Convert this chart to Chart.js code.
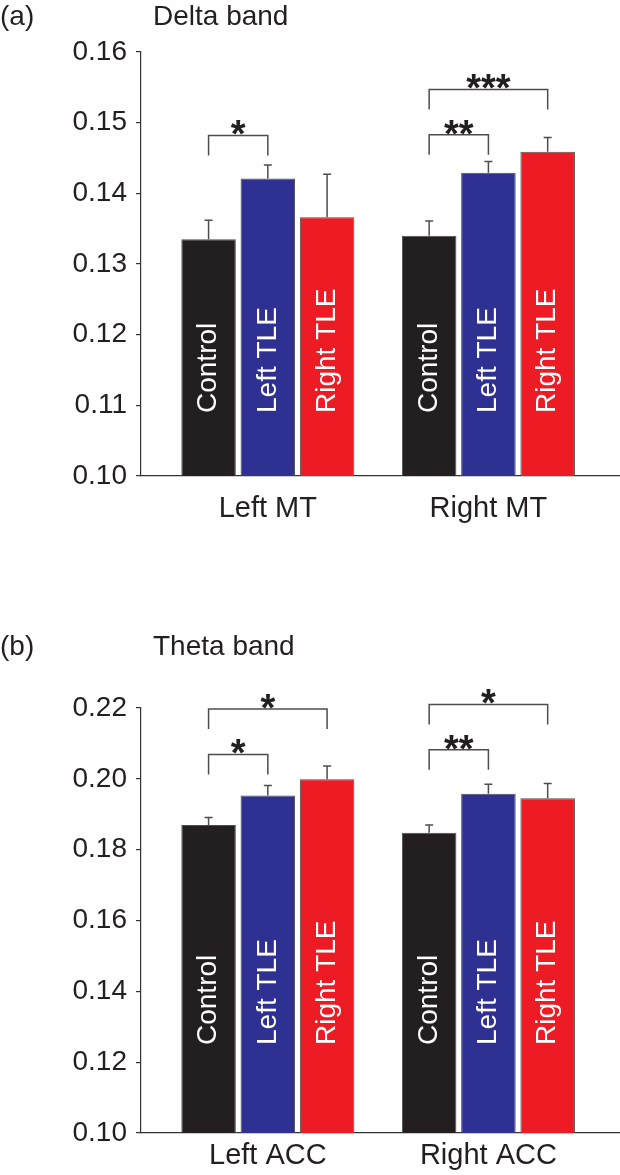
<!DOCTYPE html>
<html>
<head>
<meta charset="utf-8">
<script src="https://cdn.jsdelivr.net/npm/chart.js@4.4.1/dist/chart.umd.min.js"></script>
<style>
    html, body { margin: 0; padding: 0; background: #fff; }
    #wrap { position: relative; width: 620px; height: 1175px; }
    canvas { position: absolute; left: 0; }
</style>
</head>
<body>
<div id="wrap">
    <canvas id="deltaChart" width="620" height="590" style="top:0"></canvas>
    <canvas id="thetaChart" width="620" height="585" style="top:590px"></canvas>
</div>
<script>
// Groups shown in every region
const groups = ['Control', 'Left TLE', 'Right TLE'];
const groupColors = ['#231f20', '#2e3192', '#ed1c24'];

// (a) Delta band
const deltaRegions = ['Left MT', 'Right MT'];
const deltaControl = [0.1335, 0.1340];
const deltaLeftTLE = [0.1421, 0.1429];
const deltaRightTLE = [0.1366, 0.1459];
const deltaControlErr = [0.0027, 0.0021];
const deltaLeftTLEErr = [0.0019, 0.0016];
const deltaRightTLEErr = [0.0061, 0.0020];
const deltaTicks = [0.10, 0.11, 0.12, 0.13, 0.14, 0.15, 0.16];
// significance brackets: region, from group, to group, bracket height, stars
const deltaSig = [
    { region: 0, from: 0, to: 1, y: 0.1482, text: '*' },
    { region: 1, from: 0, to: 1, y: 0.1483, text: '**' },
    { region: 1, from: 0, to: 2, y: 0.1547, text: '***' }
];

// (b) Theta band
const thetaRegions = ['Left ACC', 'Right ACC'];
const thetaControl = [0.1870, 0.1848];
const thetaLeftTLE = [0.1953, 0.1958];
const thetaRightTLE = [0.1999, 0.1945];
const thetaControlErr = [0.0021, 0.0022];
const thetaLeftTLEErr = [0.0028, 0.0027];
const thetaRightTLEErr = [0.0037, 0.0042];
const thetaTicks = [0.10, 0.12, 0.14, 0.16, 0.18, 0.20, 0.22];
const thetaSig = [
    { region: 0, from: 0, to: 1, y: 0.2069, text: '*' },
    { region: 0, from: 0, to: 2, y: 0.2197, text: '*' },
    { region: 1, from: 0, to: 1, y: 0.2082, text: '**' },
    { region: 1, from: 0, to: 2, y: 0.2210, text: '*' }
];

const FONT = "'Liberation Sans', Arial, sans-serif";
const INK = '#231f20';
const LINE = '#4d4d4d';

// Error bars, labels inside bars, brackets and panel titles
const panelDecor = {
    id: 'panelDecor',
    afterDatasetsDraw(chart, args, opts) {
        const ctx = chart.ctx;
        const yScale = chart.scales.y;
        const area = chart.chartArea;
        ctx.save();

        chart.data.datasets.forEach((ds, di) => {
            const meta = chart.getDatasetMeta(di);
            meta.data.forEach((bar, i) => {
                // error bar (upper half only)
                const top = yScale.getPixelForValue(ds.data[i].y + ds.errors[i]);
                ctx.strokeStyle = LINE;
                ctx.lineWidth = 1.5;
                ctx.beginPath();
                ctx.moveTo(bar.x, bar.y);
                ctx.lineTo(bar.x, top);
                ctx.moveTo(bar.x - 4, top);
                ctx.lineTo(bar.x + 4, top);
                ctx.stroke();

                // rotated group name inside the bar
                ctx.save();
                ctx.translate(bar.x, area.bottom - opts.labelOffset);
                ctx.rotate(-Math.PI / 2);
                ctx.fillStyle = '#ffffff';
                ctx.font = '28px ' + FONT;
                ctx.textAlign = 'left';
                ctx.textBaseline = 'middle';
                ctx.fillText(ds.label, 0, 0);
                ctx.restore();
            });
        });

        // significance brackets
        opts.brackets.forEach(b => {
            const x1 = chart.getDatasetMeta(b.from).data[b.region].x;
            const x2 = chart.getDatasetMeta(b.to).data[b.region].x;
            const y = yScale.getPixelForValue(b.y);
            ctx.strokeStyle = LINE;
            ctx.lineWidth = 1.5;
            ctx.beginPath();
            ctx.moveTo(x1, y + 20);
            ctx.lineTo(x1, y);
            ctx.lineTo(x2, y);
            ctx.lineTo(x2, y + 20);
            ctx.stroke();

            ctx.fillStyle = INK;
            ctx.font = 'bold 38px ' + FONT;
            ctx.textAlign = 'center';
            ctx.textBaseline = 'alphabetic';
            ctx.fillText(b.text, (x1 + x2) / 2, y + 12);
        });

        // panel letter and title
        ctx.fillStyle = INK;
        ctx.font = '28px ' + FONT;
        ctx.textAlign = 'left';
        ctx.textBaseline = 'alphabetic';
        opts.titles.forEach(t => ctx.fillText(t.text, t.x, t.y));

        ctx.restore();
    }
};

function makeDatasets(values, errors) {
    return groups.map((g, gi) => ({
        label: g,
        data: values[gi].map((v, i) => ({ x: i + 1, y: v })),
        errors: errors[gi],
        backgroundColor: groupColors[gi],
        borderColor: LINE,
        borderWidth: 1,
        categoryPercentage: 0.806,
        barPercentage: 0.92
    }));
}

function makeChart(canvasId, cfg) {
    return new Chart(document.getElementById(canvasId), {
        type: 'bar',
        data: { datasets: makeDatasets(cfg.values, cfg.errors) },
        plugins: [panelDecor],
        options: {
            responsive: false,
            animation: false,
            layout: { padding: { top: cfg.padTop, right: 1, left: 0, bottom: 0 } },
            plugins: {
                legend: { display: false },
                tooltip: { enabled: false },
                panelDecor: {
                    brackets: cfg.brackets,
                    titles: cfg.titles,
                    labelOffset: cfg.labelOffset
                }
            },
            scales: {
                x: {
                    type: 'linear',
                    offset: false,
                    min: 0.425,
                    max: 2.592,
                    afterBuildTicks: s => { s.ticks = cfg.regions.map((r, i) => ({ value: i + 1 })); },
                    afterFit: s => { s.height = cfg.xHeight; },
                    ticks: {
                        callback: v => cfg.regions[v - 1],
                        font: { family: FONT, size: 29 },
                        color: INK,
                        padding: cfg.xPad,
                        autoSkip: false,
                        maxRotation: 0
                    },
                    grid: { display: false, drawTicks: false, offset: false },
                    border: { display: true, color: '#333', width: 1.2 }
                },
                y: {
                    min: cfg.ticks[0],
                    max: cfg.ticks[cfg.ticks.length - 1],
                    afterBuildTicks: s => { s.ticks = cfg.ticks.map(v => ({ value: v })); },
                    afterFit: s => { s.width = 141; },
                    ticks: {
                        callback: v => v.toFixed(2),
                        font: { family: FONT, size: 28 },
                        color: INK,
                        padding: 9
                    },
                    grid: { drawOnChartArea: false, tickLength: 5, color: '#333', lineWidth: 1.2 },
                    border: { color: '#333', width: 1.2 }
                }
            }
        }
    });
}

makeChart('deltaChart', {
    regions: deltaRegions,
    values: [deltaControl, deltaLeftTLE, deltaRightTLE],
    errors: [deltaControlErr, deltaLeftTLEErr, deltaRightTLEErr],
    ticks: deltaTicks,
    brackets: deltaSig,
    titles: [{ text: '(a)', x: 0, y: 25 }, { text: 'Delta band', x: 153, y: 25 }],
    padTop: 52,
    xHeight: 114,
    xPad: 16,
    labelOffset: 63
});

makeChart('thetaChart', {
    regions: thetaRegions,
    values: [thetaControl, thetaLeftTLE, thetaRightTLE],
    errors: [thetaControlErr, thetaLeftTLEErr, thetaRightTLEErr],
    ticks: thetaTicks,
    brackets: thetaSig,
    titles: [{ text: '(b)', x: 0, y: 65 }, { text: 'Theta band', x: 153, y: 65 }],
    padTop: 118,
    xHeight: 42,
    xPad: 6,
    labelOffset: 88
});
</script>
</body>
</html>
